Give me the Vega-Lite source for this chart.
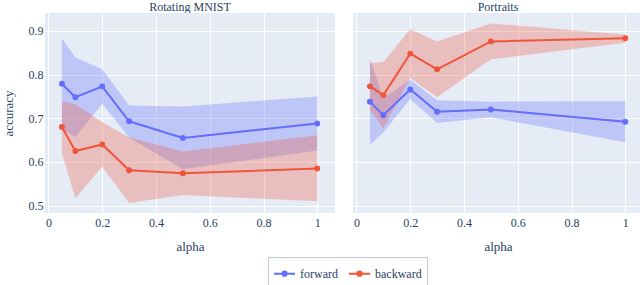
{
  "$schema": "https://vega.github.io/schema/vega-lite/v6.json",
  "autosize": {"type": "pad"},
  "padding": {"left": 2, "top": 1, "right": 1, "bottom": 0},
  "background": "white",
  "config": {
    "font": "Liberation Serif",
    "view": {"fill": "#E5ECF6", "stroke": null},
    "axis": {"gridColor": "white", "gridWidth": 1, "domain": false, "ticks": false, "labelColor": "#2a3f5f", "titleColor": "#2a3f5f", "labelFontSize": 12, "titleFontSize": 13, "titleFontWeight": "normal", "labelFont": "Liberation Serif", "titleFont": "Liberation Serif"}
  },
  "data": {"values": [
    {"panel": "Rotating MNIST", "dir": "forward", "alpha": 0.05, "mean": 0.779, "lo": 0.675, "hi": 0.883},
    {"panel": "Rotating MNIST", "dir": "forward", "alpha": 0.1, "mean": 0.748, "lo": 0.657, "hi": 0.839},
    {"panel": "Rotating MNIST", "dir": "forward", "alpha": 0.2, "mean": 0.773, "lo": 0.733, "hi": 0.812},
    {"panel": "Rotating MNIST", "dir": "forward", "alpha": 0.3, "mean": 0.693, "lo": 0.656, "hi": 0.729},
    {"panel": "Rotating MNIST", "dir": "forward", "alpha": 0.5, "mean": 0.655, "lo": 0.583, "hi": 0.727},
    {"panel": "Rotating MNIST", "dir": "forward", "alpha": 1.0, "mean": 0.688, "lo": 0.626, "hi": 0.750},
    {"panel": "Rotating MNIST", "dir": "backward", "alpha": 0.05, "mean": 0.680, "lo": 0.619, "hi": 0.739},
    {"panel": "Rotating MNIST", "dir": "backward", "alpha": 0.1, "mean": 0.625, "lo": 0.517, "hi": 0.732},
    {"panel": "Rotating MNIST", "dir": "backward", "alpha": 0.2, "mean": 0.640, "lo": 0.589, "hi": 0.691},
    {"panel": "Rotating MNIST", "dir": "backward", "alpha": 0.3, "mean": 0.581, "lo": 0.506, "hi": 0.656},
    {"panel": "Rotating MNIST", "dir": "backward", "alpha": 0.5, "mean": 0.574, "lo": 0.524, "hi": 0.624},
    {"panel": "Rotating MNIST", "dir": "backward", "alpha": 1.0, "mean": 0.585, "lo": 0.510, "hi": 0.661},
    {"panel": "Portraits", "dir": "forward", "alpha": 0.05, "mean": 0.738, "lo": 0.639, "hi": 0.837},
    {"panel": "Portraits", "dir": "forward", "alpha": 0.1, "mean": 0.707, "lo": 0.668, "hi": 0.746},
    {"panel": "Portraits", "dir": "forward", "alpha": 0.2, "mean": 0.766, "lo": 0.744, "hi": 0.788},
    {"panel": "Portraits", "dir": "forward", "alpha": 0.3, "mean": 0.715, "lo": 0.689, "hi": 0.741},
    {"panel": "Portraits", "dir": "forward", "alpha": 0.5, "mean": 0.720, "lo": 0.702, "hi": 0.738},
    {"panel": "Portraits", "dir": "forward", "alpha": 1.0, "mean": 0.692, "lo": 0.645, "hi": 0.739},
    {"panel": "Portraits", "dir": "backward", "alpha": 0.05, "mean": 0.773, "lo": 0.720, "hi": 0.826},
    {"panel": "Portraits", "dir": "backward", "alpha": 0.1, "mean": 0.753, "lo": 0.677, "hi": 0.829},
    {"panel": "Portraits", "dir": "backward", "alpha": 0.2, "mean": 0.848, "lo": 0.792, "hi": 0.904},
    {"panel": "Portraits", "dir": "backward", "alpha": 0.3, "mean": 0.812, "lo": 0.748, "hi": 0.876},
    {"panel": "Portraits", "dir": "backward", "alpha": 0.5, "mean": 0.876, "lo": 0.835, "hi": 0.917},
    {"panel": "Portraits", "dir": "backward", "alpha": 1.0, "mean": 0.883, "lo": 0.873, "hi": 0.892}
  ]},
  "facet": {
    "column": {
      "field": "panel", "type": "nominal", "sort": ["Rotating MNIST", "Portraits"],
      "header": {"title": null, "labelFont": "Liberation Serif", "labelFontSize": 12, "labelColor": "#2a3f5f", "labelPadding": -1}
    }
  },
  "spacing": 18,
  "spec": {
    "width": 290,
    "height": 200,
    "encoding": {
      "x": {"field": "alpha", "type": "quantitative", "title": "alpha", "scale": {"domain": [-0.013, 1.066], "nice": false}, "axis": {"values": [0, 0.2, 0.4, 0.6, 0.8, 1], "labelExpr": "datum.value == 0 ? '0' : datum.value == 1 ? '1' : format(datum.value, '.1f')", "labelPadding": 4, "titlePadding": 12, "labelFlush": false, "labelFont": "Liberation Serif", "titleFont": "Liberation Serif"}},
      "color": {"field": "dir", "type": "nominal", "scale": {"domain": ["forward", "backward"], "range": ["#636EFA", "#EF553B"]}, "legend": {"title": null, "orient": "none", "legendX": 223, "legendY": 244, "direction": "horizontal", "symbolType": "M-1,0H1M-0.2,0a0.2,0.2 0 1,0 0.4,0a0.2,0.2 0 1,0 -0.4,0", "symbolStrokeWidth": 2, "symbolSize": 440, "symbolOpacity": 1, "symbolFillColor": "transparent", "labelFont": "Liberation Serif", "labelFontSize": 12, "labelColor": "#2a3f5f", "labelOffset": 4, "strokeColor": "#BEC8D9", "fillColor": "white", "padding": 5, "columnPadding": 7}}
    },
    "layer": [
      {"mark": {"type": "area", "opacity": 0.3}, "encoding": {"y": {"field": "lo", "type": "quantitative", "title": "accuracy", "scale": {"domain": [0.483, 0.941], "nice": false}}, "y2": {"field": "hi"}}},
      {"mark": {"type": "line", "strokeWidth": 2}, "encoding": {"y": {"field": "mean", "type": "quantitative", "title": "accuracy", "scale": {"domain": [0.483, 0.941], "nice": false}, "axis": {"values": [0.5, 0.6, 0.7, 0.8, 0.9], "format": ".1f", "labelPadding": 2, "titlePadding": 13, "labelFont": "Liberation Serif", "titleFont": "Liberation Serif"}}}},
      {"mark": {"type": "point", "filled": true, "size": 35, "opacity": 1}, "encoding": {"y": {"field": "mean", "type": "quantitative", "scale": {"domain": [0.483, 0.941], "nice": false}}}}
    ]
  }
}
